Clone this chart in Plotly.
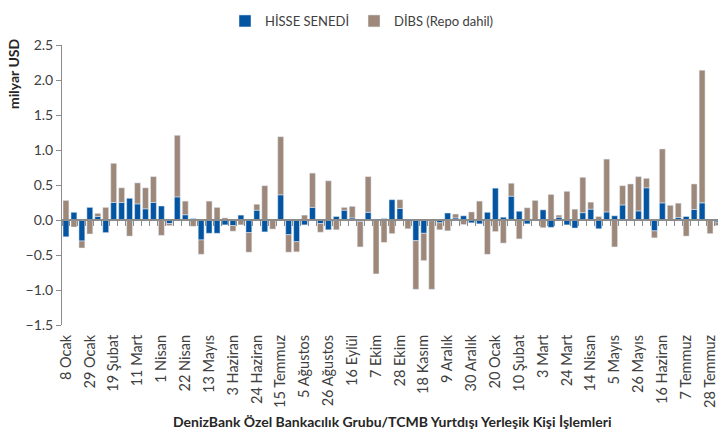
import plotly.graph_objects as go

# Tick labels (every third week)
tick_labels = ["8 Ocak", "29 Ocak", "19 Şubat", "11 Mart", "1 Nisan", "22 Nisan",
               "13 Mayıs", "3 Haziran", "24 Haziran", "15 Temmuz", "5 Ağustos",
               "26 Ağustos", "16 Eylül", "7 Ekim", "28 Ekim", "18 Kasım", "9 Aralık",
               "30 Aralık", "20 Ocak", "10 Şubat", "3 Mart", "24 Mart", "14 Nisan",
               "5 Mayıs", "26 Mayıs", "16 Haziran", "7 Temmuz", "28 Temmuz"]

# Weekly values, milyar USD
hisse = [-0.24, 0.11, -0.30, 0.18, 0.05, -0.18, 0.25, 0.25, 0.31, 0.23,
         0.16, 0.25, 0.20, -0.05, 0.33, 0.075, 0.02, -0.285, -0.19, -0.19,
         -0.07, -0.08, 0.07, -0.18, 0.14, -0.17, 0.0, 0.36, -0.21, -0.31,
         -0.07, 0.18, -0.05, -0.14, 0.05, 0.14, 0.03, -0.02, 0.11, 0.01,
         0.02, 0.29, 0.165, 0.0, -0.295, -0.19, -0.01, -0.04, 0.10, 0.03,
         0.06, -0.04, -0.055, 0.11, 0.455, 0.04, 0.34, 0.125, -0.055, 0.0,
         0.145, -0.105, 0.04, -0.07, -0.115, 0.105, 0.155, -0.125, 0.115, 0.06,
         0.215, 0.0, 0.13, 0.46, -0.155, 0.245, 0.0, 0.035, 0.05, 0.15,
         0.245, 0.0, -0.03]
dibs = [0.28, -0.10, -0.10, -0.20, 0.045, 0.18, 0.56, 0.21, -0.23, 0.30,
        0.30, 0.37, -0.22, -0.03, 0.88, 0.195, -0.09, -0.205, 0.27, 0.18,
        0.03, -0.08, -0.07, -0.28, 0.085, 0.49, -0.13, 0.83, -0.25, -0.145,
        0.07, 0.49, -0.125, 0.56, -0.14, 0.04, 0.165, -0.365, 0.51, -0.77,
        -0.32, -0.195, 0.125, -0.125, -0.695, -0.39, -0.98, -0.10, -0.155, 0.055,
        -0.065, 0.115, 0.27, -0.49, -0.165, -0.33, 0.185, -0.27, 0.175, 0.28,
        -0.11, 0.365, 0.03, 0.41, 0.155, 0.505, 0.10, 0.05, 0.755, -0.385,
        0.275, 0.515, 0.49, 0.135, -0.10, 0.77, 0.21, 0.205, -0.23, 0.365,
        1.895, -0.195, -0.05]

x = list(range(len(hisse)))
tick_pos = x[::3][:len(tick_labels)]

BLUE = "#0455A1"
BROWN = "#9D887A"
FONT = "Lato"

# plot area in pixels
L, R, T, B = 62, 718, 45, 325
W, H = R - L, B - T

fig = go.Figure()
fig.add_trace(go.Bar(x=x, y=hisse, name="HİSSE SENEDİ", marker_color=BLUE))
fig.add_trace(go.Bar(x=x, y=dibs, name="DİBS (Repo dahil)", marker_color=BROWN))

xr = [-0.5, 82.0]
fig.update_layout(
    width=718, height=435,
    margin=dict(l=L, r=718 - R, t=T, b=435 - B, autoexpand=False),
    barmode="relative", bargap=0.26,
    plot_bgcolor="white", paper_bgcolor="white",
    font=dict(family=FONT, size=13, color="#404040"),
    showlegend=True,
    legend=dict(orientation="h", x=(362 - L) / W, xanchor="center",
                y=1 + (T - 6) / H, yanchor="top",
                font=dict(family=FONT, size=13, color="#404040"),
                itemwidth=30, tracegroupgap=0),
    xaxis=dict(range=xr, tickmode="array", tickvals=tick_pos, ticktext=tick_labels,
               tickangle=-90, showgrid=False, showline=False, ticks="",
               zeroline=False, automargin=False, ticklabelstandoff=6,
               tickfont=dict(family=FONT, size=14.5, color="#404040")),
    xaxis2=dict(range=xr, overlaying="x", anchor="free", position=0.375,
                tickmode="linear", tick0=-0.5, dtick=1, ticks="outside", ticklen=5,
                tickcolor="#8C8C8C", tickwidth=1, showline=True, linecolor="#8C8C8C",
                linewidth=1.5, showticklabels=False, showgrid=False, zeroline=False,
                automargin=False),
    yaxis=dict(range=[-1.5, 2.5], dtick=0.5, tickformat=".1f", showgrid=False,
               zeroline=False, showline=True, linecolor="#8C8C8C", linewidth=1,
               ticks="outside", ticklen=5, tickcolor="#8C8C8C", automargin=False,
               tickfont=dict(family=FONT, size=14, color="#404040")),
)
# invisible helper trace so the zero-line axis is drawn
fig.add_trace(go.Scatter(x=[xr[0]], y=[0], xaxis="x2", mode="markers",
                         marker=dict(opacity=0), showlegend=False, hoverinfo="skip"))

fig.add_annotation(text="<b>milyar USD</b>", xref="paper", yref="paper",
                   x=(14 - L) / W, y=(B - 74) / H, textangle=-90,
                   xanchor="center", yanchor="middle",
                   showarrow=False, font=dict(family=FONT, size=14, color="#262626"))
fig.add_annotation(text="<b>DenizBank Özel Bankacılık Grubu/TCMB Yurtdışı Yerleşik Kişi İşlemleri</b>",
                   xref="paper", yref="paper", x=(392 - L) / W, y=(B - 421) / H,
                   xanchor="center", yanchor="middle",
                   showarrow=False, font=dict(family=FONT, size=14, color="#262626"))

fig.write_html("out.html", config={"displayModeBar": False},
               post_script="document.body.style.margin='0';document.body.style.overflow='hidden';")
